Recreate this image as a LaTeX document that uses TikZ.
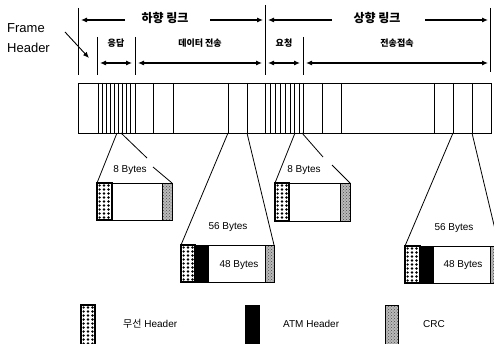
\documentclass[tikz,border=0pt]{standalone}
\usepackage{fontspec}
\setmainfont{Liberation Sans}
\newfontfamily\kr{Noto Sans CJK KR}
\usetikzlibrary{arrows.meta,patterns}
\tikzset{
  lbl/.style={inner sep=0pt, font=\fontsize{10}{11}\selectfont},
  klbl/.style={inner sep=0pt, font=\kr\bfseries\fontsize{9}{10}\selectfont},
  tlbl/.style={inner sep=0pt, font=\kr\bfseries\fontsize{12}{13}\selectfont},
  arr/.style={line width=1.1pt, -{Latex[length=6pt,width=5pt]}},
  darr/.style={line width=1.1pt, {Latex[length=6pt,width=5pt]}-{Latex[length=6pt,width=5pt]}},
  mark line/.style={line width=0.9pt},
  bar line/.style={line width=0.8pt},
  funnel/.style={line width=0.8pt},
}
\newcommand\wheader[4]{%
  \begin{scope}
    \clip (#1,#2) rectangle (#3,#4);
    \foreach \i in {0,...,12}{\foreach \j in {0,1,2}{%
      \fill ({#1+2.6+\j*4.4},{#2+2.5+\i*4}) circle[radius=1.35pt];}}
  \end{scope}
  \draw[line width=1.1pt] (#1,#2) rectangle (#3,#4);}
\newcommand\crcfill[4]{%
  \fill[gray!55] (#1,#2) rectangle (#3,#4);
  \fill[pattern=crosshatch dots, pattern color=black!70] (#1,#2) rectangle (#3,#4);
  \draw[line width=0.8pt] (#1,#2) rectangle (#3,#4);}
\newcommand\atmfill[4]{\fill[black] (#1,#2) rectangle (#3,#4);}
\begin{document}
\begin{tikzpicture}[x=1pt,y=-1pt]
\useasboundingbox (0,0) rectangle (494,344);
\clip (0,0) rectangle (494,344);
% ---- top marks
\draw[mark line] (78,8) -- (78,75);
\draw[mark line] (265,5) -- (265,75);
\draw[mark line] (490,8) -- (490,72);
\draw[mark line] (97,37) -- (97,75);
\draw[mark line] (135,37) -- (135,75);
\draw[mark line] (303,37) -- (303,75);
% ---- row 1
\node[tlbl] (dl) at (165,18) {하향 링크};
\node[tlbl] (ul) at (377,18) {상향 링크};
\coordinate (dlL) at (81,20); \coordinate (dlR) at (263,20);
\coordinate (ulL) at (268,20); \coordinate (ulR) at (488,20);
\draw[arr] (125,20) -- (dlL);
\draw[arr] (210,20) -- (dlR);
\draw[arr] (332,20) -- (ulL);
\draw[arr] (425,20) -- (ulR);
% ---- row 2
\node[klbl] (resp) at (116,43) {응답};
\node[klbl] (data) at (200,43) {데이터 전송};
\node[klbl] (req) at (284,43) {요청};
\node[klbl] (conn) at (397,43) {전송접속};
\draw[darr] (100,63) -- (132,63);
\draw[darr] (138,63) -- (262,63);
\draw[darr] (268,63) -- (300,63);
\draw[darr] (306,63) -- (488,63);
% ---- frame header
\node[lbl, anchor=west, font=\fontsize{13}{14}\selectfont] (fr) at (7,28) {Frame};
\node[lbl, anchor=west, font=\fontsize{13}{14}\selectfont] (hd) at (7,48) {Header};
\coordinate (fhA) at (65,32); \coordinate (fhB) at (89,58);
\draw[line width=0.9pt, -{Latex[length=6pt,width=5pt]}] (fhA) -- (fhB);
% ---- frame bar
\node[draw, line width=0.9pt, minimum width=413pt, minimum height=50pt, inner sep=0pt, anchor=north west] (bar) at (78,83) {};
\foreach \x in {98,102,106,110,114,118,122,126,130,135,
                265,270,275,280,285,290,294,299,303}
  \draw[line width=0.9pt] (\x,83) -- (\x,133);
\foreach \x in {153,173,228,247,322,341,434,453,472}
  \draw[bar line] (\x,83) -- (\x,133);
% ---- box 1 (8 Bytes)
\draw[funnel] (117,133) -- (97,183);
\draw[funnel] (121,133) -- (147,158);
\draw[funnel] (153,167) -- (172,183);
\node[lbl] (b1) at (130,170) {8 Bytes};
\draw[line width=0.9pt] (97,183) rectangle (172,220);
\wheader{97}{183}{112}{220}
\crcfill{162}{183}{172}{220}
% ---- box 3 (8 Bytes)
\draw[funnel] (295,133) -- (275,183);
\draw[funnel] (302,133) -- (323,157);
\draw[funnel] (332,165) -- (350,183);
\node[lbl] (b3) at (304,170) {8 Bytes};
\draw[line width=0.9pt] (275,183) rectangle (350,221);
\wheader{275}{183}{289}{221}
\crcfill{340}{183}{350}{221}
% ---- box 2 (56 / 48 Bytes)
\draw[funnel] (228,133) -- (181,245);
\draw[funnel] (247,133) -- (274,245);
\node[lbl] (b2) at (228,227) {56 Bytes};
\draw[line width=0.9pt] (181,245) rectangle (274,282);
\wheader{181}{245}{195}{282}
\atmfill{195}{245}{209}{282}
\crcfill{265}{245}{274}{282}
\node[lbl] (c2) at (239,265) {48 Bytes};
% ---- box 4 (56 / 48 Bytes)
\draw[funnel] (453,133) -- (405,246);
\draw[funnel] (472,133) -- (499,246);
\node[lbl] (b4) at (454,228) {56 Bytes};
\draw[line width=0.9pt] (405,246) rectangle (499,283);
\wheader{405}{246}{420}{283}
\atmfill{420}{246}{434}{283}
\crcfill{490}{246}{499}{283}
\node[lbl] (c4) at (463,265) {48 Bytes};
% ---- legend
\wheader{81}{305}{95}{346}
\node[lbl, anchor=west] (lg1) at (123,324) {{\kr 무선} Header};
\atmfill{245}{305}{260}{346}
\node[lbl, anchor=west] (lg2) at (283,324) {ATM Header};
\crcfill{385}{305}{398}{346}
\node[lbl, anchor=west] (lg3) at (423,324) {CRC};
\end{tikzpicture}
\end{document}
